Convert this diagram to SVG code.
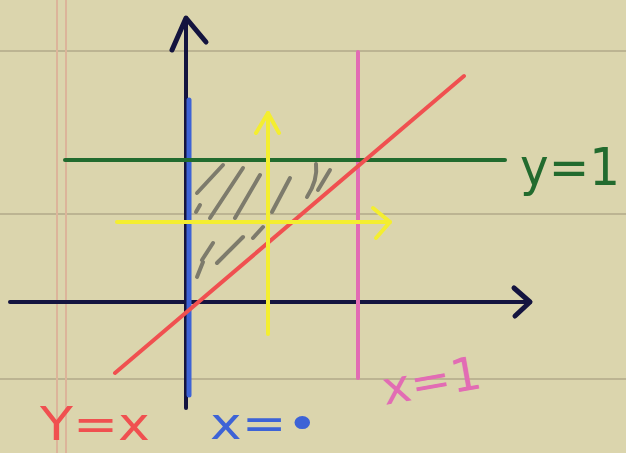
<svg xmlns="http://www.w3.org/2000/svg" width="626" height="453" viewBox="0 0 626 453">
<style>
.rule{stroke:#b5ad8c;stroke-width:2;opacity:0.8}
.margin{stroke:#dcb49a;stroke-width:2}
.hatch{stroke:#7d7b6c;stroke-width:4;stroke-linecap:round;fill:none}
.hand{font-family:"DejaVu Sans","Liberation Sans",sans-serif}
</style>
<rect width="626" height="453" fill="#dbd5ad"/>
<g id="paper">
<line class="rule" x1="0" y1="51" x2="626" y2="51"/>
<line class="rule" x1="0" y1="214" x2="626" y2="214"/>
<line class="rule" x1="0" y1="379" x2="626" y2="379"/>
<line class="margin" x1="57" y1="0" x2="57" y2="453"/>
<line class="margin" x1="66" y1="0" x2="66" y2="453"/>
</g>
<g id="hatching">
<path class="hatch" d="M197 193 L223 165"/>
<path class="hatch" d="M210 218 L243 168"/>
<path class="hatch" d="M235 218 L260 175"/>
<path class="hatch" d="M272 212 L290 178"/>
<path class="hatch" d="M307 197 Q318 180 316 164"/>
<path class="hatch" d="M318 190 L330 170"/>
<path class="hatch" d="M202 260 L213 243"/>
<path class="hatch" d="M217 263 L243 237"/>
<path class="hatch" d="M197 277 L203 262"/>
<path class="hatch" d="M253 238 L263 227"/>
<path class="hatch" d="M196 212 L200 205"/>
</g>
<g id="connectors" fill="none" stroke-linecap="round" stroke-linejoin="round">
<g id="y-axis"><path d="M186 408 L186 18" stroke="#14143f" stroke-width="4"/><path d="M172 50 L186 18 L206 42" stroke="#14143f" stroke-width="5"/></g>
<g id="x-axis"><path d="M10 302 L530 302" stroke="#14143f" stroke-width="4"/><path d="M514 288 L530 302 L515 316" stroke="#14143f" stroke-width="5"/></g>
<line id="x0" x1="189" y1="100" x2="189" y2="395" stroke="#3d63d6" stroke-width="5"/>
<line id="x1" x1="358" y1="52" x2="358" y2="378" stroke="#e26cb4" stroke-width="4"/>
<line id="y1" x1="65" y1="160" x2="505" y2="160" stroke="#226b2e" stroke-width="4"/>
<line id="yx" x1="115" y1="373" x2="464" y2="76" stroke="#f05050" stroke-width="4"/>
<g id="yellow-v" stroke="#f4ee30" stroke-width="4"><path d="M268 334 L268 113"/><path d="M256 133 L268 113 L279 133"/></g>
<g id="yellow-h" stroke="#f4ee30" stroke-width="4"><path d="M117 222 L390 222"/><path d="M373 208 L390 222 L376 238"/></g>
</g>
<g id="label-y1"><text class="hand" x="520" y="185" font-size="52" fill="#226b2e" textLength="100" lengthAdjust="spacingAndGlyphs">y=1</text></g>
<g id="label-yx"><text class="hand" x="40" y="440" font-size="46" fill="#f05050" textLength="110" lengthAdjust="spacingAndGlyphs">Y=x</text></g>
<g id="label-x0"><text class="hand" x="210" y="439" font-size="44" fill="#3d63d6" textLength="108" lengthAdjust="spacingAndGlyphs">x=•</text></g>
<g id="label-x1"><text class="hand" x="385" y="405" font-size="46" fill="#e26cb4" textLength="100" lengthAdjust="spacingAndGlyphs" transform="rotate(-10 385 405)">x=1</text></g>
</svg>
